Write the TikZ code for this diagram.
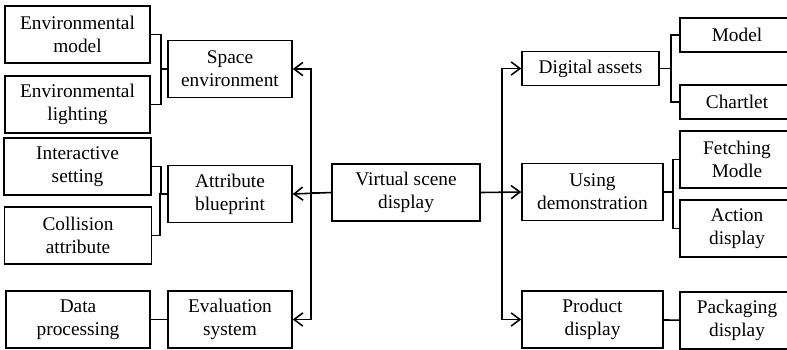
\documentclass[tikz,border=0pt]{standalone}
\usepackage{fontspec}
\setmainfont{Liberation Serif}
\usetikzlibrary{arrows.meta}

\begin{document}
\begin{tikzpicture}[
    x=0.02cm, y=-0.02cm,
    every node/.style={font=\fontsize{11}{13}\selectfont},
    box/.style={draw, line width=0.9pt, minimum width=#1, minimum height=1.14cm,
                inner sep=0pt, align=center},
    flat/.style={minimum height=0.68cm},
    link/.style={line width=0.9pt},
    arrow/.style={link, -{Straight Barb[length=5pt, width=7.5pt]}}
]
\useasboundingbox (0,0) rectangle (787,349);
\clip (0,0) rectangle (787,349);

% Centre
\node[box=2.96cm] (scene) at (406,192.5) {Virtual scene\\display};

% Left: second level
\node[box=2.48cm] (space) at (230,69) {Space\\environment};
\node[box=2.48cm] (attr) at (230,194) {Attribute\\blueprint};
\node[box=2.48cm] (eval) at (230,319.5) {Evaluation\\system};

% Left: leaves
\node[box=2.9cm] (envmodel) at (77.5,34.5) {Environmental\\model};
\node[box=2.9cm] (envlight) at (77.5,104.5) {Environmental\\lighting};
\node[box=2.94cm] (interact) at (77.5,166.5) {Interactive\\setting};
\node[box=2.94cm] (collision) at (78,235.5) {Collision\\attribute};
\node[box=2.88cm] (dataproc) at (78,319.5) {Data\\processing};

% Right: second level
\node[box=2.74cm, flat] (digital) at (590.5,68.5) {Digital assets};
\node[box=2.82cm] (using) at (592.5,192) {Using\\demonstration};
\node[box=2.82cm] (product) at (592.5,319.5) {Product\\display};

% Right: leaves
\node[box=2.28cm, flat] (model) at (737,35) {Model};
\node[box=2.28cm, flat] (chartlet) at (737,102) {Chartlet};
\node[box=2.28cm] (fetching) at (737,159.5) {Fetching\\Modle};
\node[box=2.28cm] (action) at (737,228.5) {Action\\display};
\node[box=2.28cm] (packaging) at (737,320.5) {Packaging\\display};

% Arrows out of the centre
\draw[arrow] (scene.west) -- (attr.east);
\draw[arrow] (scene.west) -- ++(-20,0) |- (space.east);
\draw[arrow] (scene.west) -- ++(-20,0) |- (eval.east);
\draw[arrow] (scene.east) -- (using.west);
\draw[arrow] (scene.east) -- ++(21,0) |- (digital.west);
\draw[arrow] (scene.east) -- ++(21,0) |- (product.west);

% Brackets, left
\draw[link] (envmodel.east) -- ++(10,0) |- (space.west);
\draw[link] (envlight.east) -- ++(10,0) |- (space.west);
\draw[link] (interact.east) -- ++(9,0) |- (attr.west);
\draw[link] (collision.east) -- ++(8,0) |- (attr.west);
\draw[link] (dataproc) -- (eval);

% Brackets, right
\draw[link] (digital.east) -- ++(11,0) |- (model.west);
\draw[link] (digital.east) -- ++(11,0) |- (chartlet.west);
\draw[link] (using.east) -- ++(9,0) |- (fetching.west);
\draw[link] (using.east) -- ++(9,0) |- (action.west);
\draw[link] (product) -- (packaging);

\end{tikzpicture}
\end{document}
